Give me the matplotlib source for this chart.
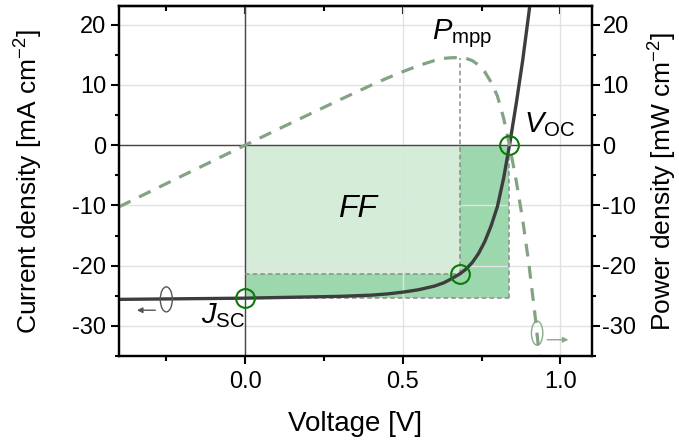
import matplotlib
matplotlib.use("Agg")
import matplotlib.pyplot as plt
from matplotlib.ticker import MultipleLocator
from matplotlib.patches import Ellipse

plt.rcParams['font.family'] = ['Liberation Sans', 'DejaVu Sans']
plt.rcParams['mathtext.fontset'] = 'custom'
plt.rcParams['mathtext.rm'] = 'Liberation Sans'
plt.rcParams['mathtext.it'] = 'Liberation Sans:italic'
plt.rcParams['mathtext.sf'] = 'Liberation Sans'
plt.rcParams['axes.unicode_minus'] = False

# ---- data ----
voltage = [-0.40, -0.30, -0.20, -0.10, 0.00, 0.10, 0.20, 0.30, 0.40, 0.45, 0.50,
           0.55, 0.60, 0.63, 0.65, 0.68, 0.70, 0.72, 0.74, 0.76, 0.78, 0.80,
           0.82, 0.84, 0.86, 0.88, 0.90, 0.92, 0.93, 0.935]
current = [-25.6, -25.55, -25.5, -25.45, -25.4, -25.3, -25.2, -25.1, -24.9, -24.7, -24.4,
           -24.0, -23.4, -22.85, -22.3, -21.4, -20.6, -19.5, -18.0, -16.0, -13.4, -10.2,
           -5.4, 0.5, 7.0, 14.0, 22.0, 31.0, 36.0, 39.0]
power = [-10.24, -7.67, -5.10, -2.55, 0.00, 2.53, 5.04, 7.53, 9.96, 11.12, 12.20,
         13.20, 14.04, 14.40, 14.50, 14.55, 14.42, 14.04, 13.32, 12.16, 10.45, 8.16,
         4.43, -0.42, -6.02, -12.32, -19.80, -28.52, -33.48, -36.47]

V_oc = 0.838
J_sc = -25.4
V_mpp = 0.68
J_mpp = -21.4
P_mpp = 14.55

x_ticks = [0.0, 0.5, 1.0]
x_tick_labels = ['0.0', '0.5', '1.0']
y_ticks = [-30, -20, -10, 0, 10, 20]
y_tick_labels = ['-30', '-20', '-10', '0', '10', '20']

xlim = (-0.4, 1.1)
ylim = (-35, 23.1)

# ---- figure ----
fig = plt.figure(figsize=(6.79, 4.43), dpi=100)
ax = fig.add_axes([119/679, 87/443, 473/679, 350/443])
ax2 = ax.twinx()

line_dark = '#3d3d3d'
pow_col = '#83a384'
circ_col = '#0b7a0b'
dash_grey = '#8c8c8c'

# shaded rectangles
ax.fill_between([0, V_oc], [J_sc, J_sc], [0, 0], color='#9dd7ad', lw=0, zorder=0.2)
ax.fill_between([0, V_mpp], [J_mpp, J_mpp], [0, 0], color='#d4ecd8', lw=0, zorder=0.3)

# grid
ax.set_axisbelow(True)
ax.grid(True, which='major', color='#e2e2e2', lw=1.0)

# axis cross lines
ax.axhline(0, color='#474747', lw=1.0, zorder=0.6)
ax.axvline(0, color='#474747', lw=1.0, zorder=0.6)

# dashed helper lines
ax.plot([0, V_oc], [J_sc, J_sc], color=dash_grey, lw=1.1, ls=(0, (3, 2)), zorder=0.7)
ax.plot([V_oc, V_oc], [J_sc, 0], color=dash_grey, lw=1.1, ls=(0, (3, 2)), zorder=0.7)
ax.plot([0, V_mpp], [J_mpp, J_mpp], color=dash_grey, lw=1.1, ls=(0, (3, 2)), zorder=0.7)
ax.plot([V_mpp, V_mpp], [J_mpp, P_mpp], color=dash_grey, lw=1.1, ls=(0, (3, 2)), zorder=0.7)

# JV curve
ax.plot(voltage, current, color=line_dark, lw=2.4, solid_capstyle='round', zorder=3)

# power curve on right axis
ax2.plot(voltage, power, color=pow_col, lw=2.3, ls=(0, (4, 3)), zorder=2)

# characteristic points
ax2.plot([0, V_mpp, V_oc], [J_sc, J_mpp, 0], ls='none', marker='o', ms=13.5,
         mfc='none', mec=circ_col, mew=1.5, zorder=5)

# axis-indicating ellipses and arrows
ax.add_patch(Ellipse((-0.25, -25.6), 0.038, 4.15, fill=False, ec='#555555', lw=1.0, zorder=4))
ax.annotate('', xy=(-0.352, -27.4), xytext=(-0.276, -27.4),
            arrowprops=dict(arrowstyle='-|>', color='#555555', lw=1.0, mutation_scale=8))
ax.add_patch(Ellipse((0.926, -31.2), 0.036, 4.0, fill=False, ec='#8aaa8b', lw=1.0, zorder=4))
ax.annotate('', xy=(1.034, -32.3), xytext=(0.949, -32.3),
            arrowprops=dict(arrowstyle='-|>', color='#8aaa8b', lw=1.0, mutation_scale=8))

# annotations
ax.text(0.593, 17.6, r'$P_{\mathrm{mpp}}$', fontsize=21, ha='left', va='baseline')
ax.text(0.885, 2.2, r'$V_{\mathrm{OC}}$', fontsize=21, ha='left', va='baseline')
ax.text(-0.139, -29.6, r'$J_{\mathrm{SC}}$', fontsize=21, ha='left', va='baseline')
ax.text(0.357, -12.0, 'FF', fontsize=23, style='italic', ha='center', va='baseline')

# limits and ticks
for a in (ax, ax2):
    a.set_xlim(*xlim)
    a.set_ylim(*ylim)
ax.set_xticks(x_ticks)
ax.set_xticklabels(x_tick_labels)
ax.xaxis.set_minor_locator(MultipleLocator(0.25))
ax.set_yticks(y_ticks)
ax.set_yticklabels(y_tick_labels)
ax.yaxis.set_minor_locator(MultipleLocator(5))
ax2.set_yticks(y_ticks)
ax2.set_yticklabels(y_tick_labels)
ax2.yaxis.set_minor_locator(MultipleLocator(5))

ax.tick_params(axis='x', which='major', direction='out', length=6, width=1.5, labelsize=17, pad=5)
ax.tick_params(axis='x', which='minor', direction='out', length=3.5, width=1.5)
ax.tick_params(axis='y', which='major', direction='out', length=5.5, width=1.5, labelsize=17, pad=3.5, right=False)
ax.tick_params(axis='y', which='minor', direction='out', length=3, width=1.5, right=False)
ax2.tick_params(axis='y', which='major', direction='out', length=5.5, width=1.5, labelsize=17, pad=2)
ax2.tick_params(axis='y', which='minor', direction='out', length=3, width=1.5)

top = ax.secondary_xaxis('top')
top.set_xticks(x_ticks)
top.xaxis.set_minor_locator(MultipleLocator(0.25))
top.tick_params(which='major', direction='in', length=6, width=1.5, labeltop=False)
top.tick_params(which='minor', direction='in', length=3.5, width=1.5)
top.spines['top'].set_linewidth(1.6)

for a in (ax, ax2):
    for s in a.spines.values():
        s.set_linewidth(1.6)
        s.set_color('black')

ax.set_xlabel('Voltage [V]', fontsize=20, va='center')
ax.xaxis.set_label_coords(0.5, -0.194)
ax.set_ylabel(r'Current density [mA cm$^{-2}$]', fontsize=19, va='center')
ax.yaxis.set_label_coords((29-119)/473, 0.5)
ax2.set_ylabel(r'Power density [mW cm$^{-2}$]', fontsize=19, va='center', rotation=90)
ax2.yaxis.set_label_coords((663-119)/473, 0.5)

fig.savefig('out.png', dpi=100)
